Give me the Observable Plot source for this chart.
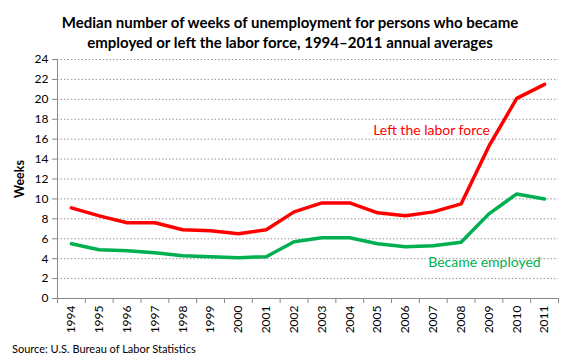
<!DOCTYPE html>
<html>
<head>
<meta charset="utf-8">
<script src="https://cdn.jsdelivr.net/npm/d3@7"></script>
<script src="https://cdn.jsdelivr.net/npm/@observablehq/plot@0.6"></script>
<style>
  body { margin: 0; background: #fff; font-family: Lato, "Open Sans", sans-serif; }
  #wrap { width: 580px; height: 360px; position: relative; overflow: hidden; }
  #title { padding-top: 12px; height: 40px; line-height: 20px; text-align: center; font-weight: bold; font-size: 15px; color: #000; }
  #source { position: absolute; left: 12px; top: 342px; font-size: 11px; color: #000; }
  g[aria-label="y-axis label"] text { font-weight: bold; font-size: 12.5px; }
  svg { display: block; }
</style>
</head>
<body>
<div id="wrap">
  <div id="title">Median number of weeks of unemployment for persons who became<br>employed or left the labor force, 1994–2011 annual averages</div>
  <div id="chart"></div>
  <div id="source">Source: U.S. Bureau of Labor Statistics</div>
</div>
<script>
const years = [1994,1995,1996,1997,1998,1999,2000,2001,2002,2003,2004,2005,2006,2007,2008,2009,2010,2011];
const leftLaborForce = [9.1,8.3,7.6,7.6,6.9,6.8,6.5,6.9,8.7,9.6,9.6,8.6,8.3,8.7,9.5,15.3,20.1,21.5];
const becameEmployed = [5.5,4.9,4.8,4.6,4.3,4.2,4.1,4.2,5.7,6.1,6.1,5.5,5.2,5.3,5.65,8.5,10.5,10.0];
const yTicks = [0,2,4,6,8,10,12,14,16,18,20,22,24];
const seriesNames = ["Left the labor force", "Became employed"];
const seriesColors = ["#ff0000", "#00b050"];
const annotations = [
  {series: "Left the labor force", year: 2006.94, value: 16.9},
  {series: "Became employed", year: 2008.84, value: 3.6}
];

const rows = [];
years.forEach((y, i) => {
  rows.push({year: y, value: leftLaborForce[i], series: seriesNames[0]});
  rows.push({year: y, value: becameEmployed[i], series: seriesNames[1]});
});
const boundaries = [years[0] - 0.5, ...years.map(y => y + 0.5)];

const chart = Plot.plot({
  width: 580,
  height: 290,
  marginTop: 7,
  marginBottom: 44,
  marginLeft: 57,
  marginRight: 22,
  style: {fontFamily: "Lato, 'Open Sans', sans-serif", fontSize: "12px", color: "#000", background: "#fff"},
  x: {type: "linear", domain: [boundaries[0], boundaries[boundaries.length - 1]]},
  y: {domain: [0, 24]},
  color: {domain: seriesNames, range: seriesColors},
  marks: [
    Plot.gridY(yTicks.filter(d => d > 0), {stroke: "#999", strokeOpacity: 1, strokeDasharray: "1.5,2", strokeWidth: 1}),
    Plot.axisY({ticks: yTicks, tickSize: 5, tickPadding: 4, stroke: "#888", label: "Weeks", labelAnchor: "center", labelArrow: "none", labelOffset: 42, fontSize: 12}),
    Plot.axisX({ticks: years, tickFormat: d => String(d), tickRotate: -90, tickSize: 0, tickPadding: 7, label: null, fontSize: 12}),
    Plot.axisX({ticks: boundaries, tickFormat: () => "", tickSize: 5, stroke: "#888", label: null}),
    Plot.ruleY([0], {stroke: "#888"}),
    Plot.ruleX([boundaries[0]], {stroke: "#888"}),
    Plot.line(rows, {x: "year", y: "value", z: "series", stroke: "series", strokeWidth: 3.5, strokeLinejoin: "round", strokeLinecap: "round"}),
    Plot.text(annotations, {x: "year", y: "value", text: "series", fill: d => seriesColors[seriesNames.indexOf(d.series)], fontSize: 14})
  ]
});
document.getElementById("chart").appendChild(chart);
</script>
</body>
</html>
